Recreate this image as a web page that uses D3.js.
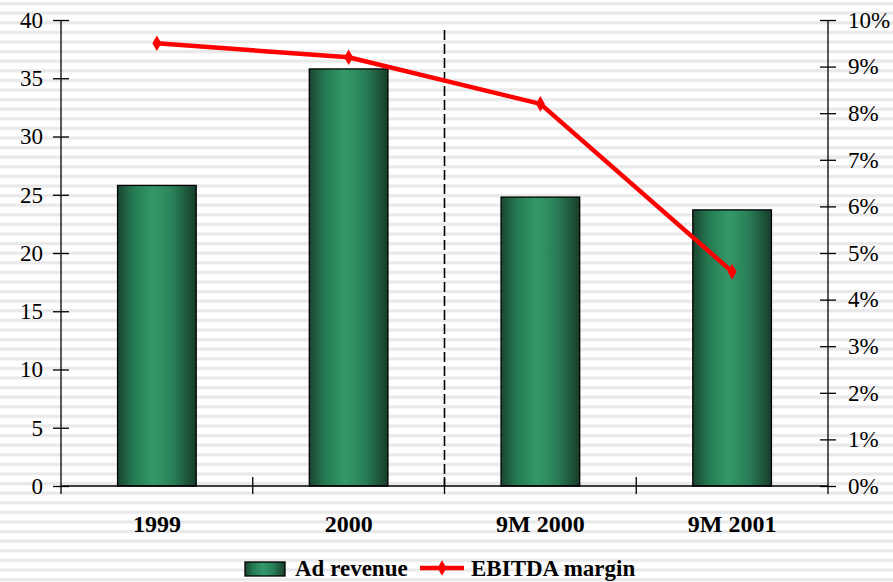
<!DOCTYPE html>
<html>
<head>
<meta charset="utf-8">
<script src="https://cdn.jsdelivr.net/npm/d3@7"></script>
<style>
  html, body { margin: 0; padding: 0; background: #fff; }
  svg { display: block; }
  svg text { font-family: "Liberation Serif"; }
</style>
</head>
<body>
<div id="chart"></div>
<script>
// chart data
var categories = ["1999", "2000", "9M 2000", "9M 2001"];
var adRevenue = [25.8, 35.8, 24.8, 23.7];
var ebitdaMargin = [0.095, 0.092, 0.082, 0.046];
var leftTicks = [0, 5, 10, 15, 20, 25, 30, 35, 40];
var rightTicks = [0, 0.01, 0.02, 0.03, 0.04, 0.05, 0.06, 0.07, 0.08, 0.09, 0.10];
var seriesNames = ["Ad revenue", "EBITDA margin"];

var width = 893, height = 582;
var margin = { top: 20, right: 65, bottom: 96, left: 61 };
var innerW = width - margin.left - margin.right;
var innerH = height - margin.top - margin.bottom;

var svg = d3.select("#chart").append("svg")
    .attr("width", width)
    .attr("height", height)
    .attr("font-family", "Liberation Serif");

var defs = svg.append("defs");

// striped background
var pat = defs.append("pattern")
    .attr("id", "stripes")
    .attr("patternUnits", "userSpaceOnUse")
    .attr("width", 10)
    .attr("height", 9.6);
pat.append("rect").attr("width", 10).attr("height", 9.6).attr("fill", "#ffffff");
pat.append("rect").attr("y", 2).attr("width", 10).attr("height", 3.2).attr("fill", "#e9e9e9");

// cylinder-ish gradient for bars
var grad = defs.append("linearGradient")
    .attr("id", "barGrad")
    .attr("x1", "0%").attr("x2", "100%").attr("y1", "0%").attr("y2", "0%");
grad.append("stop").attr("offset", "0%").attr("stop-color", "#1a4530");
grad.append("stop").attr("offset", "20%").attr("stop-color", "#257a52");
grad.append("stop").attr("offset", "45%").attr("stop-color", "#33996a");
grad.append("stop").attr("offset", "70%").attr("stop-color", "#2a8058");
grad.append("stop").attr("offset", "100%").attr("stop-color", "#173d2b");

svg.append("rect")
    .attr("width", width)
    .attr("height", height)
    .attr("fill", "url(#stripes)");

var g = svg.append("g")
    .attr("transform", "translate(" + margin.left + "," + margin.top + ")");

var x = d3.scaleBand()
    .domain(categories)
    .range([0, innerW])
    .paddingInner(0.59)
    .paddingOuter(0.295);

var xBand = d3.scaleBand()
    .domain(categories)
    .range([0, innerW]);

var yL = d3.scaleLinear().domain([0, 40]).range([innerH, 0]);
var yR = d3.scaleLinear().domain([0, 0.10]).range([innerH, 0]);

var serif = "Liberation Serif";

// bars
g.selectAll("rect.bar")
    .data(adRevenue)
    .enter()
    .append("rect")
    .attr("class", "bar")
    .attr("x", function (d, i) { return x(categories[i]); })
    .attr("y", function (d) { return yL(d); })
    .attr("width", x.bandwidth())
    .attr("height", function (d) { return innerH - yL(d); })
    .attr("fill", "url(#barGrad)")
    .attr("stroke", "#000")
    .attr("stroke-width", 1.3);

// dashed divider between annual and 9M figures
g.append("line")
    .attr("x1", xBand("9M 2000"))
    .attr("x2", xBand("9M 2000"))
    .attr("y1", 10)
    .attr("y2", innerH)
    .attr("stroke", "#000")
    .attr("stroke-width", 1.6)
    .attr("stroke-dasharray", "10,4");

// left axis
var axL = g.append("g")
    .call(d3.axisLeft(yL).tickValues(leftTicks).tickSize(8).tickPadding(10))
    .call(function (s) { s.select(".domain").remove(); })
    .attr("font-family", serif);
axL.selectAll(".tick line").attr("x2", -8).attr("x1", 8).attr("stroke", "#000").attr("stroke-width", 1.3);
axL.selectAll(".tick text")
    .attr("x", -18)
    .attr("font-family", serif)
    .style("font-size", "23px")
    .attr("fill", "#000");
axL.append("line").attr("x1", 0).attr("x2", 0).attr("y1", 0).attr("y2", innerH)
    .attr("stroke", "#000").attr("stroke-width", 1.3);

// right axis
var axR = g.append("g")
    .attr("transform", "translate(" + innerW + ",0)")
    .call(d3.axisRight(yR).tickValues(rightTicks).tickFormat(d3.format(".0%")).tickSize(8))
    .call(function (s) { s.select(".domain").remove(); })
    .attr("font-family", serif);
axR.selectAll(".tick line").attr("x1", -8).attr("x2", 8).attr("stroke", "#000").attr("stroke-width", 1.3);
axR.selectAll(".tick text")
    .attr("x", 20)
    .attr("font-family", serif)
    .style("font-size", "23px")
    .attr("fill", "#000");
axR.append("line").attr("x1", 0).attr("x2", 0).attr("y1", 0).attr("y2", innerH)
    .attr("stroke", "#000").attr("stroke-width", 1.3);

// bottom axis
var axB = g.append("g")
    .attr("transform", "translate(0," + innerH + ")");
axB.append("line").attr("x1", 0).attr("x2", innerW).attr("y1", 0).attr("y2", 0)
    .attr("stroke", "#000").attr("stroke-width", 1.6);
var boundaries = categories.map(function (c) { return xBand(c); }).concat([innerW]);
axB.selectAll("line.tick")
    .data(boundaries)
    .enter()
    .append("line")
    .attr("class", "tick")
    .attr("x1", function (d) { return d; })
    .attr("x2", function (d) { return d; })
    .attr("y1", function (d, i) { return (i === 0 || i === boundaries.length - 1) ? 0 : -9; })
    .attr("y2", 8)
    .attr("stroke", "#000")
    .attr("stroke-width", 1.3);
axB.selectAll("text")
    .data(categories)
    .enter()
    .append("text")
    .attr("x", function (d) { return xBand(d) + xBand.bandwidth() / 2; })
    .attr("y", 46)
    .attr("text-anchor", "middle")
    .attr("font-family", serif)
    .style("font-size", "24px")
    .style("font-weight", "bold")
    .text(function (d) { return d; });

// EBITDA margin line
var line = d3.line()
    .x(function (d, i) { return xBand(categories[i]) + xBand.bandwidth() / 2; })
    .y(function (d) { return yR(d); });

g.append("path")
    .datum(ebitdaMargin)
    .attr("d", line)
    .attr("fill", "none")
    .attr("stroke", "#ff0000")
    .attr("stroke-width", 4.5)
    .attr("stroke-linejoin", "round");

var diamond = d3.symbol().type(d3.symbolDiamond).size(70);
g.selectAll("path.marker")
    .data(ebitdaMargin)
    .enter()
    .append("path")
    .attr("class", "marker")
    .attr("d", diamond)
    .attr("transform", function (d, i) {
        return "translate(" + (xBand(categories[i]) + xBand.bandwidth() / 2) + "," + yR(d) + ")";
    })
    .attr("fill", "#ff0000");

// legend
var leg = svg.append("g").attr("transform", "translate(245,562)");
leg.append("rect")
    .attr("width", 40).attr("height", 14)
    .attr("fill", "url(#barGrad)")
    .attr("stroke", "#000").attr("stroke-width", 1.3);
leg.append("text")
    .attr("x", 50).attr("y", 14)
    .attr("font-family", serif)
    .style("font-size", "23px")
    .style("font-weight", "bold")
    .text(seriesNames[0]);
leg.append("line")
    .attr("x1", 175).attr("x2", 219).attr("y1", 6).attr("y2", 6)
    .attr("stroke", "#ff0000").attr("stroke-width", 4.5);
leg.append("path")
    .attr("d", diamond)
    .attr("transform", "translate(197,6)")
    .attr("fill", "#ff0000");
leg.append("text")
    .attr("x", 226).attr("y", 14)
    .attr("font-family", serif)
    .style("font-size", "23px")
    .style("font-weight", "bold")
    .text(seriesNames[1]);
</script>
</body>
</html>
